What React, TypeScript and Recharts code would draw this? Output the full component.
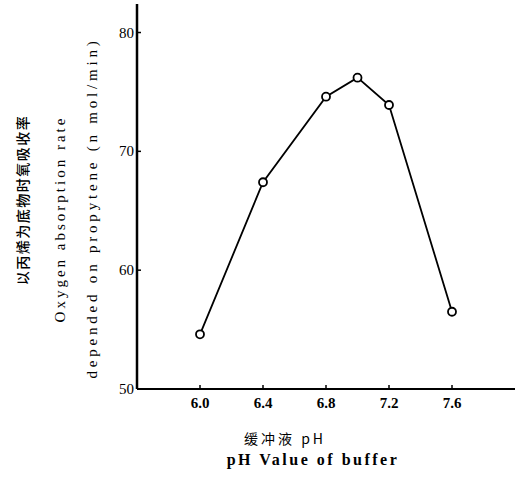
import { LineChart, Line, XAxis, YAxis } from 'recharts';

const phValues = [6.0, 6.4, 6.8, 7.0, 7.2, 7.6];
const absorptionRate = [54.6, 67.4, 74.6, 76.2, 73.9, 56.5];
const xTicks = [6.0, 6.4, 6.8, 7.2, 7.6];
const yTicks = [50, 60, 70, 80];

const data = phValues.map((ph, i) => ({ ph, rate: absorptionRate[i] }));

const serif = 'Liberation Serif, DejaVu Serif, serif';
const cjk = 'Noto Sans CJK SC, sans-serif';

// ticks drawn inward like the printed figure
const YTick = (props: any) => {
  const { x, y, payload } = props;
  return (
    <g>
      <line x1={x} y1={y} x2={x + 4} y2={y} stroke="#000" strokeWidth={1.5} />
      <text x={x - 3} y={y + 5} textAnchor="end" fontSize={15} fontFamily={serif} fill="#000">
        {payload.value}
      </text>
    </g>
  );
};

const XTick = (props: any) => {
  const { x, y, payload } = props;
  return (
    <g>
      <line x1={x} y1={y} x2={x} y2={y - 4} stroke="#000" strokeWidth={1.5} />
      <text x={x} y={y + 19} textAnchor="middle" fontSize={15} fontWeight="bold" fontFamily={serif} fill="#000">
        {Number(payload.value).toFixed(1)}
      </text>
    </g>
  );
};

const vLabel = (text: string, cx: number, cy: number, extra: any = {}) => (
  <div
    style={{
      position: 'absolute',
      left: cx,
      top: cy,
      transform: 'translate(-50%, -50%) rotate(-90deg)',
      whiteSpace: 'nowrap',
      fontFamily: serif,
      fontSize: 15,
      lineHeight: 1,
      color: '#000',
      ...extra,
    }}
  >
    {text}
  </div>
);

const hLabel = (text: string, cx: number, cy: number, extra: any = {}) => (
  <div
    style={{
      position: 'absolute',
      left: cx,
      top: cy,
      transform: 'translate(-50%, -50%)',
      whiteSpace: 'nowrap',
      fontFamily: serif,
      fontSize: 15,
      lineHeight: 1,
      color: '#000',
      ...extra,
    }}
  >
    {text}
  </div>
);

export default function App() {
  return (
    <div style={{ position: 'absolute', left: 0, top: 0, width: 522, height: 486, background: '#fff' }}>
      <LineChart width={522} height={486} data={data} margin={{ top: 4, right: 7, left: 0, bottom: 0 }}>
        <XAxis
          dataKey="ph"
          type="number"
          domain={[5.6, 8.0]}
          ticks={xTicks}
          allowDataOverflow
          height={97}
          tickSize={0}
          tickMargin={0}
          tickLine={false}
          axisLine={{ stroke: '#000', strokeWidth: 2 }}
          tick={<XTick />}
        />
        <YAxis
          type="number"
          domain={[50, 82.4]}
          ticks={yTicks}
          allowDataOverflow
          width={137}
          tickSize={0}
          tickMargin={0}
          tickLine={false}
          axisLine={{ stroke: '#000', strokeWidth: 2.5 }}
          tick={<YTick />}
        />
        <Line
          type="linear"
          dataKey="rate"
          stroke="#000"
          strokeWidth={1.8}
          dot={{ r: 4, stroke: '#000', strokeWidth: 1.8, fill: '#fff' }}
          isAnimationActive={false}
        />
      </LineChart>
      {vLabel('以丙烯为底物时氧吸收率', 22, 200, {
        fontFamily: cjk,
        fontSize: 14,
        fontWeight: 500,
        letterSpacing: 1.5,
      })}
      {vLabel('Oxygen absorption rate', 60, 219, { letterSpacing: 3 })}
      {vLabel('depended on  propytene (n mol/min)', 92, 208, { letterSpacing: 3.8 })}
      {hLabel('缓冲液 pH', 285, 438, { fontFamily: cjk, fontSize: 14, letterSpacing: 3 })}
      {hLabel('pH  Value of buffer', 313, 460, { fontWeight: 'bold', fontSize: 16, letterSpacing: 2.5 })}
    </div>
  );
}
